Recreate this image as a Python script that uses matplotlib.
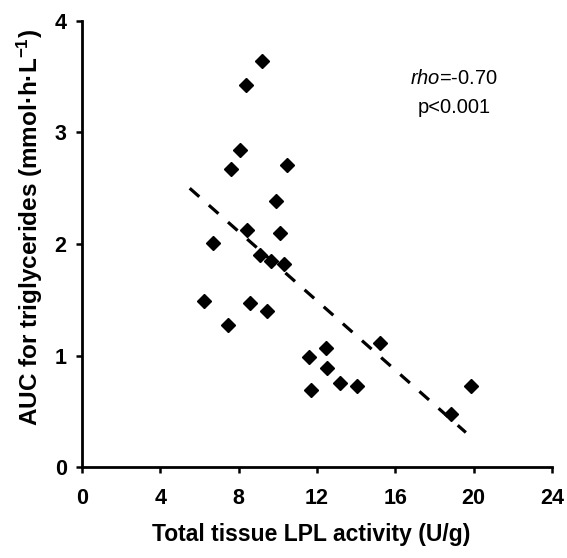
import matplotlib
matplotlib.use("Agg")
import matplotlib.pyplot as plt

plt.rcParams['font.family'] = ['Liberation Sans', 'DejaVu Sans']
plt.rcParams['mathtext.fontset'] = 'custom'
plt.rcParams['mathtext.rm'] = 'Liberation Sans'
plt.rcParams['mathtext.it'] = 'Liberation Sans:italic'
plt.rcParams['mathtext.bf'] = 'Liberation Sans:bold'

# Data
lpl_activity = [9.19, 8.37, 8.08, 7.59, 10.47, 9.91, 8.41, 10.09, 6.68, 9.09,
                9.67, 10.30, 6.21, 8.59, 9.43, 7.43, 11.61, 12.45, 12.53, 13.16,
                11.71, 14.02, 15.24, 19.85, 18.82]
auc_tg = [3.64, 3.43, 2.84, 2.67, 2.71, 2.39, 2.13, 2.10, 2.01, 1.90,
          1.85, 1.82, 1.49, 1.47, 1.40, 1.27, 0.99, 1.07, 0.89, 0.75,
          0.69, 0.73, 1.11, 0.73, 0.475]
trend_x = [5.5, 19.6]
trend_y = [2.50, 0.31]
x_ticks = [0, 4, 8, 12, 16, 20, 24]
y_ticks = [0, 1, 2, 3, 4]

fig = plt.figure(figsize=(5.67, 5.58), dpi=100)
ax = fig.add_axes([0.1446, 0.163, 0.829, 0.7994])

ax.plot(trend_x, trend_y, color='black', lw=2.3, linestyle=(0, (4, 4)), zorder=2)
ax.plot(lpl_activity, auc_tg, linestyle='none', marker='D', ms=7.5,
        color='black', zorder=3)

ax.set_xlim(0, 24)
ax.set_ylim(0, 4)
ax.set_xticks(x_ticks)
ax.set_yticks(y_ticks)
for s in ['top', 'right']:
    ax.spines[s].set_visible(False)
for s in ['left', 'bottom']:
    ax.spines[s].set_linewidth(2)
ax.tick_params(axis='x', direction='out', length=4, width=1.8, labelsize=15.5, pad=11)
ax.tick_params(axis='y', direction='out', length=4, width=1.8, labelsize=15.5, pad=7)
for lab in ax.get_xticklabels() + ax.get_yticklabels():
    lab.set_fontweight('bold')

ax.set_xlabel('Total tissue LPL activity (U/g)', fontsize=16.5, fontweight='bold', labelpad=10)
ax.xaxis.label.set_x(0.488)
ax.set_ylabel(r'AUC for triglycerides (mmol·h·L$^{\mathbf{-1}}$)', fontsize=17.5,
              fontweight='bold', labelpad=7)
ax.yaxis.label.set_y(0.536)

ax.text(19.0, 3.48, r'$\mathit{rho}$=-0.70', fontsize=14.5, ha='center', va='center')
ax.text(19.0, 3.22, 'p<0.001', fontsize=14.5, ha='center', va='center')

fig.savefig('out.png', dpi=100)
